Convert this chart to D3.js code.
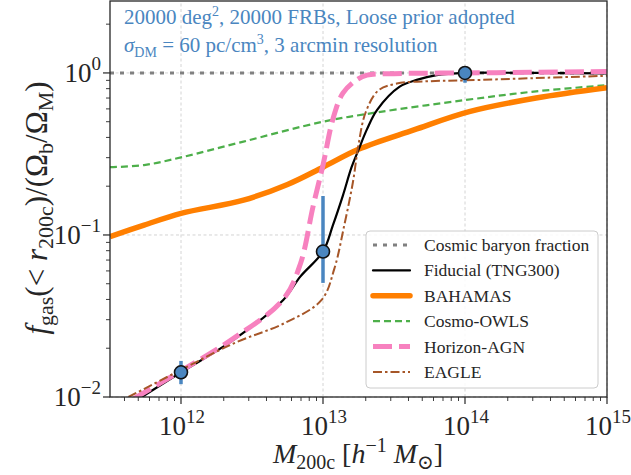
<!DOCTYPE html>
<html>
<head>
<meta charset="utf-8">
<script src="https://cdn.jsdelivr.net/npm/d3@7"></script>
<style>
  body { margin: 0; background: #fff; }
</style>
</head>
<body>
<svg id="chart" width="631" height="475" font-family="Liberation Serif, DejaVu Serif, serif"></svg>
<script>
// data (log10 of mass, gas fraction)
var fiducialM = [11.70, 12.0, 12.37, 12.72, 12.84, 13.0, 13.07, 13.14, 13.2, 13.25, 13.31, 13.38, 13.54, 13.66, 13.8, 14.0, 14.5, 15.0];
var fiducialF = [0.0097, 0.0142, 0.0225, 0.0397, 0.0553, 0.079, 0.115, 0.175, 0.26, 0.335, 0.45, 0.59, 0.823, 0.906, 0.97, 1.0, 1.0, 0.995];

var bahamasM = [11.5, 11.74, 12.0, 12.44, 12.75, 13.0, 13.25, 13.64, 14.03, 14.5, 15.0];
var bahamasF = [0.0977, 0.115, 0.136, 0.164, 0.205, 0.262, 0.338, 0.445, 0.577, 0.70, 0.81];

var owlsM = [11.5, 11.74, 12.0, 12.44, 13.0, 13.38, 14.0, 14.5, 15.0];
var owlsF = [0.262, 0.27, 0.301, 0.377, 0.50, 0.571, 0.68, 0.77, 0.84];

var horizonM = [11.67, 12.0, 12.37, 12.72, 12.84, 12.93, 13.0, 13.07, 13.14, 13.24, 13.31, 13.5, 14.0, 14.5, 15.0];
var horizonF = [0.0098, 0.0145, 0.023, 0.040, 0.066, 0.15, 0.27, 0.52, 0.75, 0.91, 0.97, 0.99, 1.0, 1.01, 1.02];

var eagleM = [11.63, 12.0, 12.38, 12.73, 12.99, 13.08, 13.15, 13.21, 13.25, 13.3, 13.39, 13.52, 13.76, 14.0, 14.5, 15.0];
var eagleF = [0.01, 0.0147, 0.0216, 0.0286, 0.0397, 0.062, 0.115, 0.21, 0.36, 0.57, 0.78, 0.86, 0.89, 0.90, 0.93, 0.96];

var baryonF = 1.0;

var pointM = [12, 13, 14];
var pointF = [0.0142, 0.079, 1.0];
var pointLo = [0.012, 0.0506, 0.87];
var pointHi = [0.0167, 0.174, 1.08];

var xTickExp = [12, 13, 14, 15];
var yTickExp = [-2, -1, 0];

var legendLabels = ["Cosmic baryon fraction", "Fiducial (TNG300)", "BAHAMAS", "Cosmo-OWLS", "Horizon-AGN", "EAGLE"];

//Layout
var margin = {left: 110, right: 24, top: 1, bottom: 78};
var width = 631, height = 475;
var svg = d3.select("#chart");

var x = d3.scaleLog().domain([Math.pow(10, 11.5), 1e15]).range([margin.left, width - margin.right]);
var y = d3.scaleLog().domain([0.01, Math.pow(10, 0.444)]).range([height - margin.bottom, margin.top]);

var blue = "#4a86c0";

//Styles per series
var styles = [
    {color: "#808080", width: 3, dash: "4,6"},
    {color: "#000000", width: 2.2, dash: null},
    {color: "#ff7f00", width: 5.5, dash: null},
    {color: "#4daf4a", width: 2.2, dash: "7,4"},
    {color: "#f781bf", width: 5, dash: "19,7"},
    {color: "#a65628", width: 2, dash: "9,3,2.5,3"}
];

//Clip
svg.append("clipPath").attr("id", "plotclip")
    .append("rect")
    .attr("x", x.range()[0]).attr("y", y.range()[1])
    .attr("width", x.range()[1] - x.range()[0])
    .attr("height", y.range()[0] - y.range()[1]);

//Grid
var grid = svg.append("g");
xTickExp.forEach(function(e) {
    grid.append("line")
        .attr("x1", x(Math.pow(10, e))).attr("x2", x(Math.pow(10, e)))
        .attr("y1", y.range()[0]).attr("y2", y.range()[1])
        .attr("stroke", "#cfcfcf").attr("stroke-width", 0.9).attr("stroke-dasharray", "3,2.5");
});
yTickExp.forEach(function(e) {
    grid.append("line")
        .attr("x1", x.range()[0]).attr("x2", x.range()[1])
        .attr("y1", y(Math.pow(10, e))).attr("y2", y(Math.pow(10, e)))
        .attr("stroke", "#cfcfcf").attr("stroke-width", 0.9).attr("stroke-dasharray", "3,2.5");
});

//Curves
var plot = svg.append("g").attr("clip-path", "url(#plotclip)");
var line = d3.line()
    .x(function(d) { return x(Math.pow(10, d[0])); })
    .y(function(d) { return y(d[1]); })
    .curve(d3.curveCatmullRom.alpha(0.5));

function drawSeries(ms, fs, st) {
    var data = ms.map(function(m, i) { return [m, fs[i]]; });
    plot.append("path")
        .datum(data)
        .attr("d", line)
        .attr("fill", "none")
        .attr("stroke", st.color)
        .attr("stroke-width", st.width)
        .attr("stroke-dasharray", st.dash)
        .attr("stroke-linejoin", "round");
}

//Baryon fraction
plot.append("line")
    .attr("x1", x.range()[0]).attr("x2", x.range()[1])
    .attr("y1", y(baryonF)).attr("y2", y(baryonF))
    .attr("stroke", styles[0].color).attr("stroke-width", styles[0].width)
    .attr("stroke-dasharray", styles[0].dash);

drawSeries(owlsM, owlsF, styles[3]);
drawSeries(bahamasM, bahamasF, styles[2]);
drawSeries(fiducialM, fiducialF, styles[1]);
drawSeries(horizonM, horizonF, styles[4]);
drawSeries(eagleM, eagleF, styles[5]);

//Points with error bars
pointM.forEach(function(m, i) {
    var px = x(Math.pow(10, m));
    plot.append("line")
        .attr("x1", px).attr("x2", px)
        .attr("y1", y(pointLo[i])).attr("y2", y(pointHi[i]))
        .attr("stroke", blue).attr("stroke-width", 3.5);
    plot.append("circle")
        .attr("cx", px).attr("cy", y(pointF[i]))
        .attr("r", 6.5)
        .attr("fill", blue).attr("stroke", "#111").attr("stroke-width", 1.6);
});

//Frame
svg.append("rect")
    .attr("x", x.range()[0]).attr("y", y.range()[1])
    .attr("width", x.range()[1] - x.range()[0])
    .attr("height", y.range()[0] - y.range()[1])
    .attr("fill", "none").attr("stroke", "#262626").attr("stroke-width", 1.3);

//Ticks
var ticks = svg.append("g").attr("stroke", "#262626");
var y0 = y.range()[0];
for (var e = 11; e <= 15; e++) {
    for (var k = 1; k <= 9; k++) {
        var v = k * Math.pow(10, e);
        if (v < x.domain()[0] || v > x.domain()[1] * 1.0001) continue;
        var len = k === 1 ? 7 : 4;
        ticks.append("line")
            .attr("x1", x(v)).attr("x2", x(v))
            .attr("y1", y0).attr("y2", y0 + len)
            .attr("stroke-width", k === 1 ? 1.2 : 0.9);
    }
}
for (var e2 = -2; e2 <= 0; e2++) {
    for (var k2 = 1; k2 <= 9; k2++) {
        var v2 = k2 * Math.pow(10, e2);
        if (v2 < y.domain()[0] || v2 > y.domain()[1]) continue;
        var len2 = k2 === 1 ? 7 : 4;
        ticks.append("line")
            .attr("x1", x.range()[0] - len2).attr("x2", x.range()[0])
            .attr("y1", y(v2)).attr("y2", y(v2))
            .attr("stroke-width", k2 === 1 ? 1.2 : 0.9);
    }
}

//Tick labels
function powerLabel(g, ex) {
    var t = g.append("text").attr("fill", "#262626").style("font-size", "27px");
    t.append("tspan").text("10");
    t.append("tspan").attr("dy", -12).style("font-size", "19px")
        .text(ex < 0 ? "\u2212" + (-ex) : String(ex));
    return t;
}
xTickExp.forEach(function(ex) {
    powerLabel(svg, ex)
        .attr("x", x(Math.pow(10, ex)) + 1).attr("y", 435)
        .attr("text-anchor", "middle");
});
yTickExp.forEach(function(ex) {
    powerLabel(svg, ex)
        .attr("x", x.range()[0] - 9).attr("y", y(Math.pow(10, ex)) + 9)
        .attr("text-anchor", "end");
});

//Axis titles
var xt = svg.append("text").attr("x", 358).attr("y", 463).attr("text-anchor", "middle")
    .attr("fill", "#262626").style("font-size", "28px");
xt.append("tspan").style("font-style", "italic").text("M");
xt.append("tspan").attr("dy", 6).style("font-size", "20px").text("200c");
xt.append("tspan").attr("dy", -6).text(" [");
xt.append("tspan").style("font-style", "italic").text("h");
xt.append("tspan").attr("dy", -11).style("font-size", "20px").text("\u22121");
xt.append("tspan").attr("dy", 11).text(" ");
xt.append("tspan").style("font-style", "italic").text("M");
xt.append("tspan").attr("dy", 6).style("font-size", "20px").text("\u2299");
xt.append("tspan").attr("dy", -6).text("]");

var yt = svg.append("text")
    .attr("transform", "translate(47," + 208 + ") rotate(-90)")
    .attr("text-anchor", "middle")
    .attr("fill", "#262626").style("font-size", "31px");
yt.append("tspan").style("font-style", "italic").text("f");
yt.append("tspan").attr("dy", 6).style("font-size", "22px").text("gas");
yt.append("tspan").attr("dy", -6).text("(< ");
yt.append("tspan").style("font-style", "italic").text("r");
yt.append("tspan").attr("dy", 6).style("font-size", "22px").text("200c");
yt.append("tspan").attr("dy", -6).text(")/(\u03A9");
yt.append("tspan").attr("dy", 6).style("font-size", "22px").text("b");
yt.append("tspan").attr("dy", -6).text("/\u03A9");
yt.append("tspan").attr("dy", 6).style("font-size", "22px").text("M");
yt.append("tspan").attr("dy", -6).text(")");

//Annotation
var a1 = svg.append("text").attr("x", 124).attr("y", 24).attr("fill", blue).style("font-size", "21px");
a1.append("tspan").text("20000 deg");
a1.append("tspan").attr("dy", -8).style("font-size", "14px").text("2");
a1.append("tspan").attr("dy", 8).text(", 20000 FRBs, Loose prior adopted");

var a2 = svg.append("text").attr("x", 124).attr("y", 52).attr("fill", blue).style("font-size", "21px");
a2.append("tspan").style("font-style", "italic").text("\u03C3");
a2.append("tspan").attr("dy", 5).style("font-size", "14px").text("DM");
a2.append("tspan").attr("dy", -5).text(" = 60 pc/cm");
a2.append("tspan").attr("dy", -8).style("font-size", "14px").text("3");
a2.append("tspan").attr("dy", 8).text(", 3 arcmin resolution");

//Legend
var lg = svg.append("g");
lg.append("rect")
    .attr("x", 366).attr("y", 231).attr("width", 232).attr("height", 157)
    .attr("rx", 4).attr("fill", "#fff").attr("fill-opacity", 0.85)
    .attr("stroke", "#cccccc").attr("stroke-width", 1);
legendLabels.forEach(function(lab, i) {
    var ly = 245 + i * 25.4;
    var st = styles[i];
    lg.append("line")
        .attr("x1", 373).attr("x2", 410).attr("y1", ly).attr("y2", ly)
        .attr("stroke", st.color).attr("stroke-width", st.width)
        .attr("stroke-dasharray", st.dash)
        .attr("stroke-linecap", st.dash ? "butt" : "round");
    lg.append("text")
        .attr("x", 424).attr("y", ly + 6)
        .attr("fill", "#262626").style("font-size", "17.5px")
        .text(lab);
});
</script>
</body>
</html>
